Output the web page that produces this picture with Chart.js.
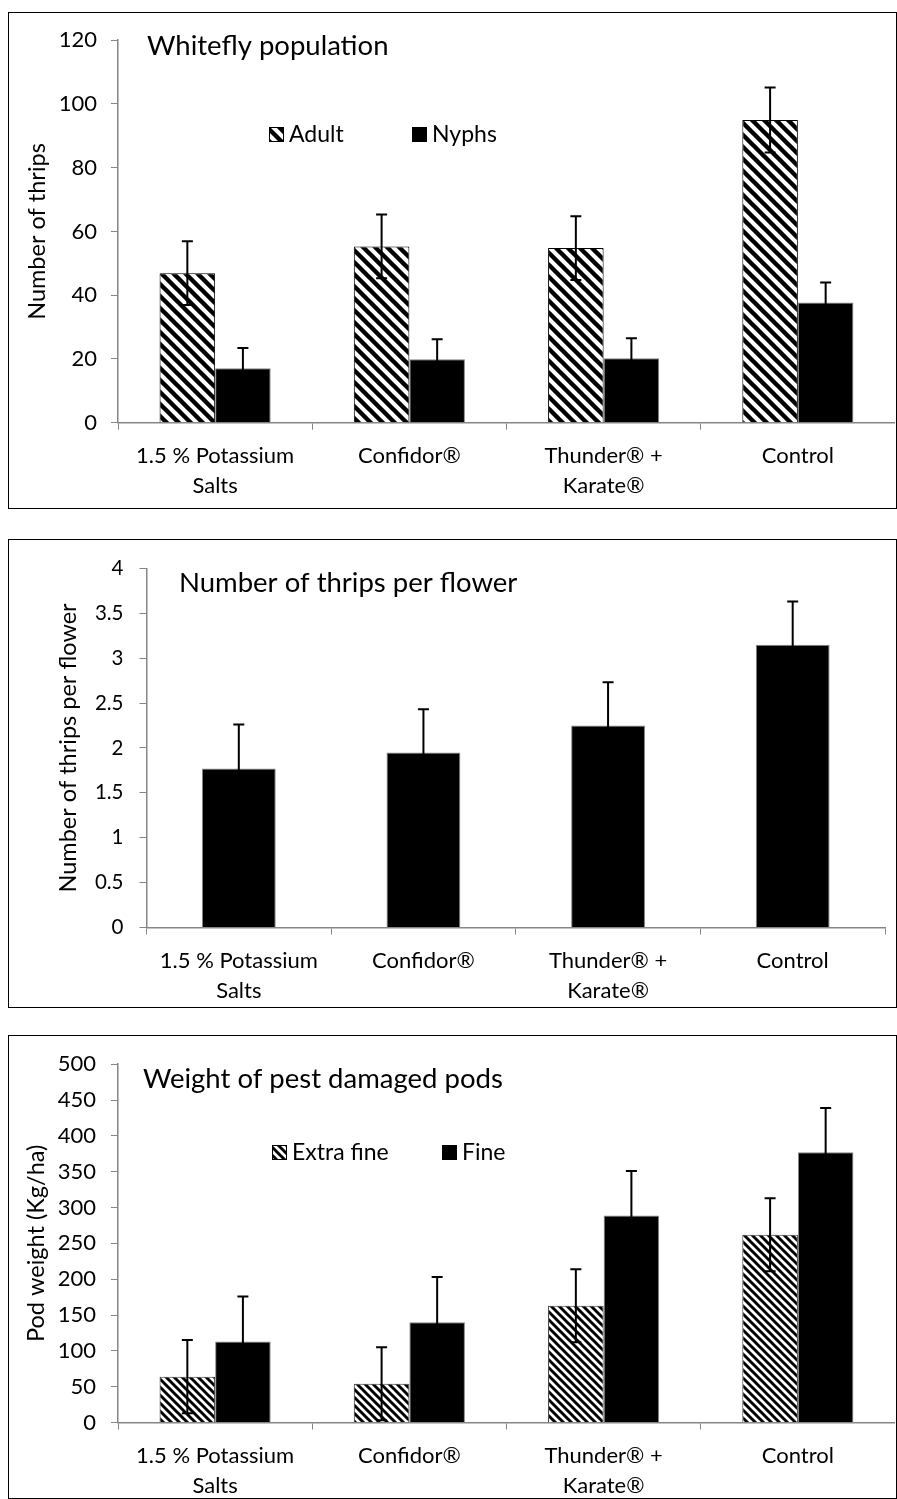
<!DOCTYPE html>
<html>
<head>
<meta charset="utf-8">
<script src="https://cdn.jsdelivr.net/npm/chart.js@4"></script>
<style>
  body { margin: 0; background: #fff; }
  .frame { position: absolute; border: 1px solid #000; box-sizing: border-box; }
  canvas { position: absolute; }
</style>
</head>
<body>
<div class="frame" style="left:8px; top:12px; width:889px; height:497px"></div>
<div class="frame" style="left:8px; top:539px; width:889px; height:469px"></div>
<div class="frame" style="left:8px; top:1035px; width:889px; height:464px"></div>
<canvas id="whitefly" width="886" height="494" style="left:9px; top:13px"></canvas>
<canvas id="thrips" width="886" height="466" style="left:9px; top:540px"></canvas>
<canvas id="pods" width="886" height="461" style="left:9px; top:1036px"></canvas>
<script>
// --- data ---
var categories = [['1.5 % Potassium', 'Salts'], 'Confidor®', ['Thunder® +', 'Karate®'], 'Control']

var adultValues = [46.9, 55.3, 54.8, 95.0]
var adultErrors = [10, 10, 10, 10.2]
var nymphValues = [17.1, 19.9, 20.2, 37.7]
var nymphErrors = [6.3, 6.3, 6.3, 6.3]

var thripsValues = [1.77, 1.95, 2.25, 3.15]
var thripsErrors = [0.49, 0.48, 0.48, 0.48]

var extraFineValues = [64, 54, 163, 262]
var extraFineErrors = [51, 51, 51, 51]
var fineValues = [113, 140, 289, 377]
var fineErrors = [63, 63, 62, 62]

var FONT = "Lato, 'Open Sans', sans-serif"
var GREY = '#868686'

// diagonal hatch "\\\" as a canvas pattern
function hatch(period, width) {
    var c = document.createElement('canvas')
    c.width = c.height = period
    var g = c.getContext('2d')
    g.fillStyle = '#fff'
    g.fillRect(0, 0, period, period)
    g.strokeStyle = '#000'
    g.lineWidth = width
    g.beginPath()
    for (var k = -1; k <= 1; k++) {
        g.moveTo(k * period - period, -period)
        g.lineTo(k * period + 2 * period, 2 * period)
    }
    g.stroke()
    return g.createPattern(c, 'repeat')
}

var wideHatch = hatch(12, 4.4)
var fineHatch = hatch(8, 2.9)

// error bars, both directions, with caps
var errorBars = {
    id: 'errorBars',
    afterDatasetsDraw(chart) {
        var ctx = chart.ctx
        var y = chart.scales.y
        ctx.save()
        ctx.strokeStyle = '#000'
        ctx.lineWidth = 2
        chart.data.datasets.forEach((ds, i) => {
            chart.getDatasetMeta(i).data.forEach((bar, j) => {
                var top = y.getPixelForValue(ds.data[j] + ds.errors[j])
                var bot = y.getPixelForValue(ds.data[j] - ds.errors[j])
                ctx.beginPath()
                ctx.moveTo(bar.x, top); ctx.lineTo(bar.x, bot)
                ctx.moveTo(bar.x - 5.5, top); ctx.lineTo(bar.x + 5.5, top)
                ctx.moveTo(bar.x - 5.5, bot); ctx.lineTo(bar.x + 5.5, bot)
                ctx.stroke()
            })
        })
        ctx.restore()
    }
}

// title and legend drawn inside the plot, like the original
var boxText = {
    id: 'boxText',
    afterDraw(chart, args, opts) {
        var ctx = chart.ctx
        ctx.save()
        ctx.fillStyle = '#000'
        ctx.textBaseline = 'alphabetic'
        ctx.font = opts.size + 'px ' + FONT
        ctx.fillText(opts.text, opts.x, opts.y)
        ctx.font = opts.legendSize + 'px ' + FONT
        ;(opts.legend || []).forEach((it, i) => {
            var ds = chart.data.datasets[i]
            ctx.fillStyle = ds.backgroundColor
            ctx.fillRect(it.x, it.y, 15, 15)
            ctx.strokeStyle = '#000'
            ctx.lineWidth = 1
            ctx.strokeRect(it.x + 0.5, it.y + 0.5, 14, 14)
            ctx.fillStyle = '#000'
            ctx.fillText(ds.label, it.x + 20, it.y + 14.5)
        })
        ctx.restore()
    }
}

function makeChart(id, datasets, o) {
    return new Chart(document.getElementById(id), {
        type: 'bar',
        data: { labels: categories, datasets: datasets },
        plugins: [errorBars, boxText],
        options: {
            responsive: false,
            animation: false,
            events: [],
            layout: { padding: { top: o.top, right: o.right, bottom: 0, left: 0 } },
            datasets: { bar: { categoryPercentage: o.catPct, barPercentage: 1 } },
            plugins: {
                legend: { display: false },
                tooltip: { enabled: false },
                boxText: o.text
            },
            scales: {
                x: {
                    grid: { drawOnChartArea: false, tickLength: 7, color: GREY, offset: true },
                    border: { color: GREY, width: 1.5 },
                    ticks: { color: '#000', padding: 11, maxRotation: 0, autoSkip: false,
                             font: { family: FONT, size: 22, lineHeight: 30 / 22 } },
                    afterFit: s => { s.height = o.xHeight }
                },
                y: {
                    min: 0, max: o.max,
                    grid: { drawOnChartArea: false, tickLength: 7, color: GREY },
                    border: { color: GREY, width: 1.5 },
                    ticks: { stepSize: o.step, color: '#000', padding: o.tickPad,
                             font: { family: FONT, size: o.tickSize },
                             callback: v => String(v) },
                    title: { display: true, text: o.yTitle, color: '#000',
                             font: { family: FONT, size: 23.5 }, padding: { top: o.titlePad, bottom: 0 } },
                    afterFit: s => { s.width = o.yWidth }
                }
            }
        }
    })
}

makeChart('whitefly', [
    { label: 'Adult', data: adultValues, errors: adultErrors, backgroundColor: wideHatch, borderColor: '#000', borderWidth: 1 },
    { label: 'Nyphs', data: nymphValues, errors: nymphErrors, backgroundColor: '#000', borderColor: GREY, borderWidth: 1 }
], {
    top: 27, right: 0, catPct: 0.572, xHeight: 84.3, yWidth: 109, max: 120, step: 20,
    tickPad: 14, tickSize: 22, yTitle: 'Number of thrips', titlePad: 14,
    text: { text: 'Whitefly population', x: 138, y: 42, size: 27.5, legendSize: 23,
            legend: [{ x: 260, y: 114 }, { x: 403, y: 114 }] }
})

makeChart('thrips', [
    { label: 'Thrips', data: thripsValues, errors: thripsErrors, backgroundColor: '#000', borderColor: GREY, borderWidth: 1 }
], {
    top: 22.7, right: 10, catPct: 0.40, xHeight: 78.5, yWidth: 137.5, max: 4, step: 0.5,
    tickPad: 16, tickSize: 20.5, yTitle: 'Number of thrips per flower', titlePad: 45,
    text: { text: 'Number of thrips per flower', x: 170, y: 51.7, size: 27.5 }
})

makeChart('pods', [
    { label: 'Extra fine', data: extraFineValues, errors: extraFineErrors, backgroundColor: fineHatch, borderColor: '#333', borderWidth: 1 },
    { label: 'Fine', data: fineValues, errors: fineErrors, backgroundColor: '#000', borderColor: GREY, borderWidth: 1 }
], {
    top: 24, right: 0, catPct: 0.572, xHeight: 74.5, yWidth: 109, max: 500, step: 50,
    tickPad: 15, tickSize: 22, yTitle: 'Pod weight (Kg/ha)', titlePad: 13,
    text: { text: 'Weight of pest damaged pods', x: 134, y: 52, size: 27.5, legendSize: 23,
            legend: [{ x: 263, y: 109 }, { x: 433, y: 109 }] }
})
</script>
</body>
</html>
